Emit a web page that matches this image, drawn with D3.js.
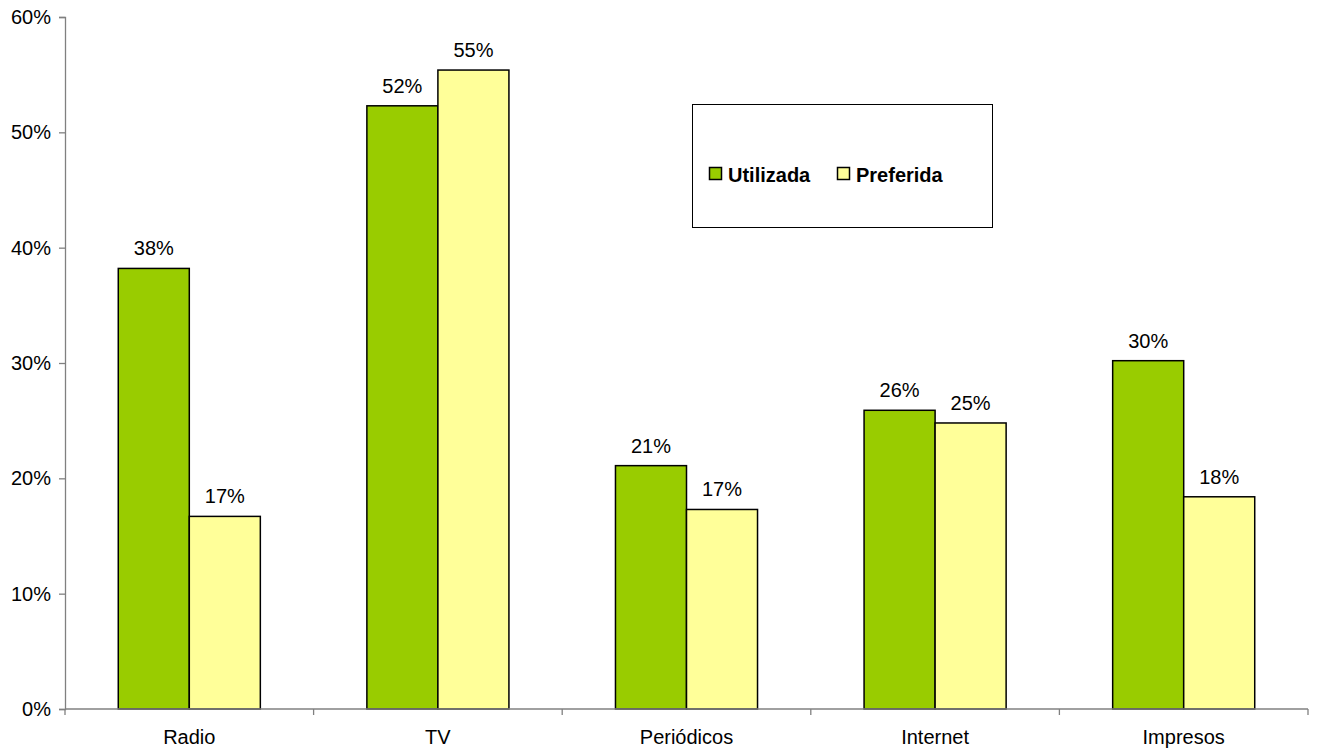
<!DOCTYPE html>
<html>
<head>
<meta charset="utf-8">
<script src="https://cdn.jsdelivr.net/npm/d3@7"></script>
<style>
  html, body { margin: 0; padding: 0; background: #fff; }
  svg { display: block; font-family: "Liberation Sans", Arial, sans-serif; }
</style>
</head>
<body>
<svg id="chart" width="1319" height="753"></svg>
<script>
// Media usage: share of respondents who use vs. prefer each medium
const categories = ["Radio", "TV", "Periódicos", "Internet", "Impresos"];
const seriesNames = ["Utilizada", "Preferida"];
const utilizada = [0.382, 0.523, 0.211, 0.259, 0.302];
const preferida = [0.167, 0.554, 0.173, 0.248, 0.184];
const yTicks = [0, 0.1, 0.2, 0.3, 0.4, 0.5, 0.6];
const colors = ["#99CC00", "#FFFF99"];

const svg = d3.select("#chart");
const plotLeft = 65, plotRight = 1308, plotTop = 17, plotBottom = 709;
const fontSize = 20;

const x0 = d3.scaleBand().domain(categories).range([plotLeft, plotRight]).paddingInner(0).paddingOuter(0);
// each group: two bars with a gap of 1.5 bar widths split over both sides
const x1 = d3.scaleBand().domain(seriesNames).range([0, x0.bandwidth()]).paddingInner(0).paddingOuter(0.75);
const y = d3.scaleLinear().domain([0, 0.6]).range([plotBottom, plotTop]);

const fmt = d3.format(".0%");
const rows = categories.map((c, i) => ({ cat: c, vals: [utilizada[i], preferida[i]] }));

// Bars
const groups = svg.append("g").selectAll("g").data(rows).join("g")
  .attr("transform", d => `translate(${x0(d.cat)},0)`);

groups.selectAll("rect").data(d => d.vals.map((v, k) => ({ k, v })))
  .join("rect")
  .attr("x", d => x1(seriesNames[d.k]))
  .attr("y", d => y(d.v))
  .attr("width", x1.bandwidth())
  .attr("height", d => plotBottom - y(d.v))
  .attr("fill", d => colors[d.k])
  .attr("stroke", "#000")
  .attr("stroke-width", 1.5);

// Value labels above each bar
groups.selectAll("text").data(d => d.vals.map((v, k) => ({ k, v })))
  .join("text")
  .attr("x", d => x1(seriesNames[d.k]) + x1.bandwidth() / 2)
  .attr("y", d => y(d.v) - 13)
  .attr("text-anchor", "middle")
  .attr("font-size", fontSize)
  .attr("fill", "#000")
  .text(d => fmt(d.v));

// Y axis
const yAxis = svg.append("g").attr("transform", `translate(${plotLeft},0)`)
  .call(d3.axisLeft(y).tickValues(yTicks).tickFormat(fmt).tickSize(6).tickPadding(8));
yAxis.select(".domain").attr("stroke", "#808080").attr("stroke-width", 1.3);
yAxis.selectAll(".tick line").attr("stroke", "#808080").attr("stroke-width", 1.3);
yAxis.selectAll(".tick text").attr("font-size", fontSize).attr("fill", "#000")
  .attr("font-family", "Liberation Sans, Arial, sans-serif");

// X axis: tick marks at category boundaries, labels centred
const xg = svg.append("g");
xg.append("line").attr("x1", plotLeft).attr("x2", plotRight).attr("y1", plotBottom).attr("y2", plotBottom)
  .attr("stroke", "#808080").attr("stroke-width", 1.3);
const bounds = categories.map(c => x0(c)).concat([plotRight]);
xg.selectAll("line.tk").data(bounds).join("line").attr("class", "tk")
  .attr("x1", d => d).attr("x2", d => d).attr("y1", plotBottom).attr("y2", plotBottom + 6)
  .attr("stroke", "#808080").attr("stroke-width", 1.3);
xg.selectAll("text").data(categories).join("text")
  .attr("x", d => x0(d) + x0.bandwidth() / 2)
  .attr("y", plotBottom + 35)
  .attr("text-anchor", "middle")
  .attr("font-size", fontSize)
  .text(d => d);

// Legend
const lg = svg.append("g");
lg.append("rect").attr("x", 692.5).attr("y", 104.5).attr("width", 300).attr("height", 123)
  .attr("fill", "#fff").attr("stroke", "#000").attr("stroke-width", 1);
const legendX = [709.5, 837.5];
seriesNames.forEach((s, k) => {
  lg.append("rect").attr("x", legendX[k]).attr("y", 167.5).attr("width", 12).attr("height", 12)
    .attr("fill", colors[k]).attr("stroke", "#000").attr("stroke-width", 1.5);
  lg.append("text").attr("x", legendX[k] + 18.5).attr("y", 182)
    .attr("font-size", fontSize).attr("font-weight", "bold").text(s);
});
</script>
</body>
</html>
